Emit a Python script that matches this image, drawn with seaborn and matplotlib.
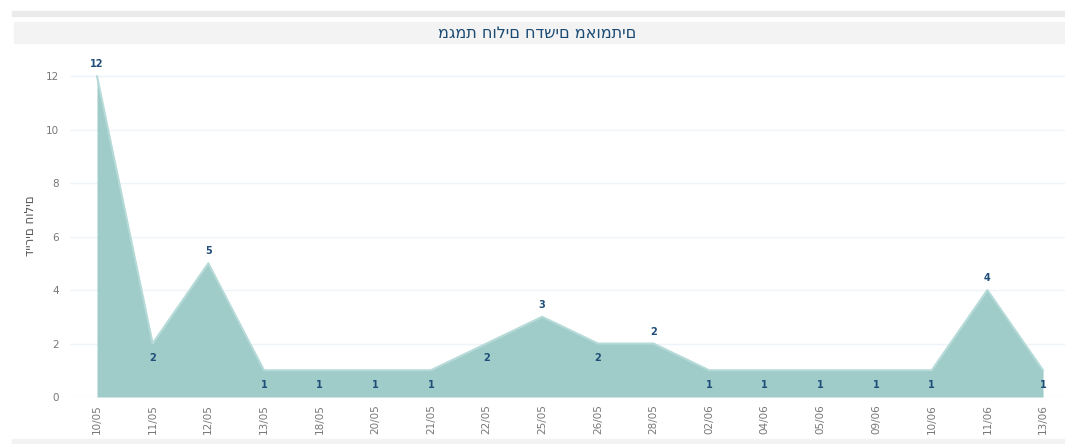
import numpy as np
import pandas as pd
import matplotlib
matplotlib.use("Agg")
import matplotlib.pyplot as plt
import seaborn as sns
from matplotlib.patches import Rectangle

# data
dates = ["10/05", "11/05", "12/05", "13/05", "18/05", "20/05", "21/05", "22/05", "25/05",
         "26/05", "28/05", "02/06", "04/06", "05/06", "09/06", "10/06", "11/06", "13/06"]
cases = [12, 2, 5, 1, 1, 1, 1, 2, 3, 2, 2, 1, 1, 1, 1, 1, 4, 1]
y_ticks = [0, 2, 4, 6, 8, 10, 12]

title = "מגמת חולים חדשים מאומתים"
y_label = "דיירים חולים"

df = pd.DataFrame({"date": dates, "cases": cases})
df["pos"] = np.arange(len(df))

sns.set_style("white")
plt.rcParams["font.family"] = ["DejaVu Sans"]

W, H = 1065, 444
fig = plt.figure(figsize=(W / 100, H / 100), dpi=100)

def fx(px):
    return px / W

def fy(py):
    return 1 - py / H

# light grey bands: top rule, title bar, bottom rule
fig.patches.append(Rectangle((fx(12), fy(16)), fx(W - 12), 5 / H, transform=fig.transFigure,
                             color="#ebebeb", zorder=0))
fig.patches.append(Rectangle((fx(14), fy(43)), fx(W - 14), 21 / H, transform=fig.transFigure,
                             color="#f3f3f3", zorder=0))
fig.patches.append(Rectangle((fx(12), 0), fx(W - 12), 5 / H, transform=fig.transFigure,
                             color="#f3f3f3", zorder=0))
fig.text(fx(537), fy(33), title, ha="center", va="center", fontsize=11.5, color="#1b4a73")

ax = fig.add_axes([fx(70), fy(397), fx(1065 - 70), (397 - 60) / H])

fill_col = "#9fcbc8"
ax.fill_between(df["pos"], df["cases"], 0, color=fill_col, linewidth=0, zorder=2)
sns.lineplot(data=df, x="pos", y="cases", ax=ax, color="#b5dad8", linewidth=1.5, zorder=3)

# value labels: above local peaks, below otherwise
for i, v in enumerate(cases):
    prev = cases[i - 1] if i > 0 else -1
    nxt = cases[i + 1] if i < len(cases) - 1 else 99
    above = v >= prev and v > nxt
    ax.annotate(str(v), (i, v), xytext=(0, 5 if above else -7), textcoords="offset points",
                ha="center", va="bottom" if above else "top", fontsize=7, fontweight="bold",
                color="#1f4e79", zorder=4)

ax.set_xlim(-0.485, 17.395)
ax.set_ylim(0, 12.6)
ax.set_yticks(y_ticks)
ax.set_xticks(df["pos"])
ax.set_xticklabels(dates, rotation=90, fontsize=7.5, color="#777777")
ax.tick_params(axis="y", labelsize=7.5, labelcolor="#777777", length=0, pad=8)
ax.tick_params(axis="x", length=0, pad=5)
ax.grid(axis="y", color="#eef4f8", linewidth=1)
ax.set_axisbelow(True)
for s in ax.spines.values():
    s.set_visible(False)
ax.set_xlabel("")
ax.set_ylabel("")
fig.text(fx(30), fy(226), y_label, rotation=90, ha="center", va="center",
         fontsize=8.5, color="#555555")

fig.savefig("out.png", dpi=100)
